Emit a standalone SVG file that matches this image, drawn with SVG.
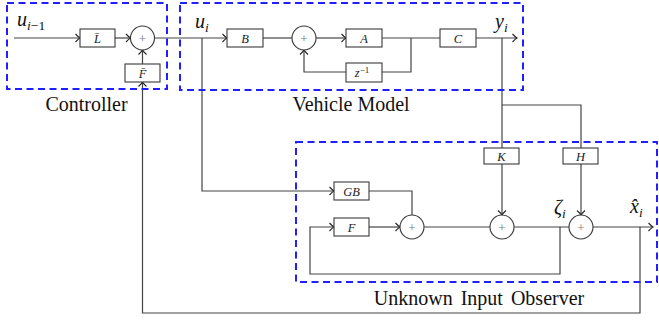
<svg xmlns="http://www.w3.org/2000/svg" width="659" height="320" viewBox="0 0 659 320">
<style>
.grp{fill:none;stroke:#1f1fff;stroke-width:2;stroke-dasharray:7,4.5}
.box{fill:#fff;stroke:#3a3a3a;stroke-width:1.1}
.sum{fill:#fff;stroke:#3a3a3a;stroke-width:1.1}
.plus{font-family:"Liberation Serif",serif;font-size:13px;fill:#777;text-anchor:middle}
.bl{font-family:"Liberation Serif",serif;font-style:italic;font-size:12.5px;fill:#222;text-anchor:middle}
.cap{font-family:"Liberation Serif",serif;font-size:20px;fill:#111;text-anchor:middle}
.math{font-family:"Liberation Serif",serif;font-style:italic;font-size:20px;fill:#111}
.sub{font-size:13.5px}
.w{fill:none;stroke:#444;stroke-width:1.2}
</style>
<defs>
<marker id="ar" markerUnits="userSpaceOnUse" markerWidth="12" markerHeight="12" viewBox="-6 -6 12 12" refX="0" refY="0" orient="auto">
<path d="M-4.5,-4 Q-1.5,-0.8 0,0 Q-1.5,0.8 -4.5,4" fill="none" stroke="#222" stroke-width="1.1"/>
</marker>
</defs>

<g id="connectors">
<path class="w" d="M14,38 H80" marker-end="url(#ar)"/>
<path class="w" d="M115,38 H130.5" marker-end="url(#ar)"/>
<path class="w" d="M142.5,64 V50" marker-end="url(#ar)"/>
<path class="w" d="M154.5,38 H227" marker-end="url(#ar)"/>
<path class="w" d="M263,38 H292"/>
<path class="w" d="M316,38 H346" marker-end="url(#ar)"/>
<path class="w" d="M382,38 H440"/>
<path class="w" d="M411,38 V72 H382"/>
<path class="w" d="M346,72 H304 V50" marker-end="url(#ar)"/>
<path class="w" d="M476,38 H517" marker-end="url(#ar)"/>
<path class="w" d="M502,38 V148"/>
<path class="w" d="M502,105 H581 V148"/>
<path class="w" d="M502,164 V215" marker-end="url(#ar)"/>
<path class="w" d="M581,164 V215" marker-end="url(#ar)"/>
<path class="w" d="M202,38 V191 H334" marker-end="url(#ar)"/>
<path class="w" d="M369,191 H412 V215"/>
<path class="w" d="M369,227 H400" marker-end="url(#ar)"/>
<path class="w" d="M424,227 H490"/>
<path class="w" d="M514,227 H569"/>
<path class="w" d="M560,227 V274 H310 V227 H334" marker-end="url(#ar)"/>
<path class="w" d="M593,227 H653" marker-end="url(#ar)"/>
<path class="w" d="M640,227 V313 H142.5 V82" marker-end="url(#ar)"/>
</g>

<g id="controller">
<rect class="grp" x="7" y="3" width="160" height="86"/>
<text class="cap" x="86.5" y="111">Controller</text>
</g>
<g id="vehicle-model">
<rect class="grp" x="180" y="3" width="343" height="87"/>
<text class="cap" x="351" y="111">Vehicle Model</text>
</g>
<g id="uio">
<rect class="grp" x="296" y="142" width="361" height="140"/>
<text class="cap" x="479" y="305" word-spacing="3">Unknown Input Observer</text>
</g>

<g id="node-Lbar"><rect class="box" x="80" y="29" width="35" height="18"/><text class="bl" x="97.5" y="42.5">L̄</text></g>
<g id="node-sum0"><circle class="sum" cx="142.5" cy="38" r="12"/><text class="plus" x="142.5" y="42.5">+</text></g>
<g id="node-Fbar"><rect class="box" x="125" y="64" width="35" height="18"/><text class="bl" x="142.5" y="77.5">F̄</text></g>

<g id="node-B"><rect class="box" x="227" y="29" width="36" height="18"/><text class="bl" x="245" y="42.5">B</text></g>
<g id="node-sum1"><circle class="sum" cx="304" cy="38" r="12"/><text class="plus" x="304" y="42.5">+</text></g>
<g id="node-A"><rect class="box" x="346" y="29" width="36" height="18"/><text class="bl" x="364" y="42.5">A</text></g>
<g id="node-zinv"><rect class="box" x="346" y="63" width="36" height="19"/><text class="bl" x="362" y="77">z<tspan font-size="9" dy="-4.5" font-style="normal">−1</tspan></text></g>
<g id="node-C"><rect class="box" x="440" y="29" width="36" height="18"/><text class="bl" x="458" y="42.5">C</text></g>

<g id="node-K"><rect class="box" x="484" y="148" width="35" height="16"/><text class="bl" x="501.5" y="160.5">K</text></g>
<g id="node-H"><rect class="box" x="563" y="148" width="35" height="16"/><text class="bl" x="580.5" y="160.5">H</text></g>
<g id="node-GB"><rect class="box" x="334" y="182" width="35" height="18"/><text class="bl" x="351.5" y="195.5">GB</text></g>
<g id="node-F"><rect class="box" x="334" y="218" width="35" height="18"/><text class="bl" x="351.5" y="231.5">F</text></g>
<g id="node-sum2"><circle class="sum" cx="412" cy="227" r="12"/><text class="plus" x="412" y="231.5">+</text></g>
<g id="node-sum3"><circle class="sum" cx="502" cy="227" r="12"/><text class="plus" x="502" y="231.5">+</text></g>
<g id="node-sum4"><circle class="sum" cx="581" cy="227" r="12"/><text class="plus" x="581" y="231.5">+</text></g>

<g id="labels">
<text class="math" x="17" y="26">u<tspan class="sub" dy="4">i</tspan><tspan class="sub" font-style="normal">−1</tspan></text>
<text class="math" x="195" y="28">u<tspan class="sub" dy="4">i</tspan></text>
<text class="math" x="495" y="28">y<tspan class="sub" dy="4">i</tspan></text>
<text class="math" x="554" y="214">ζ<tspan class="sub" dy="4">i</tspan></text>
<text class="math" x="630" y="213">x̂<tspan class="sub" dy="4">i</tspan></text>
</g>
</svg>
